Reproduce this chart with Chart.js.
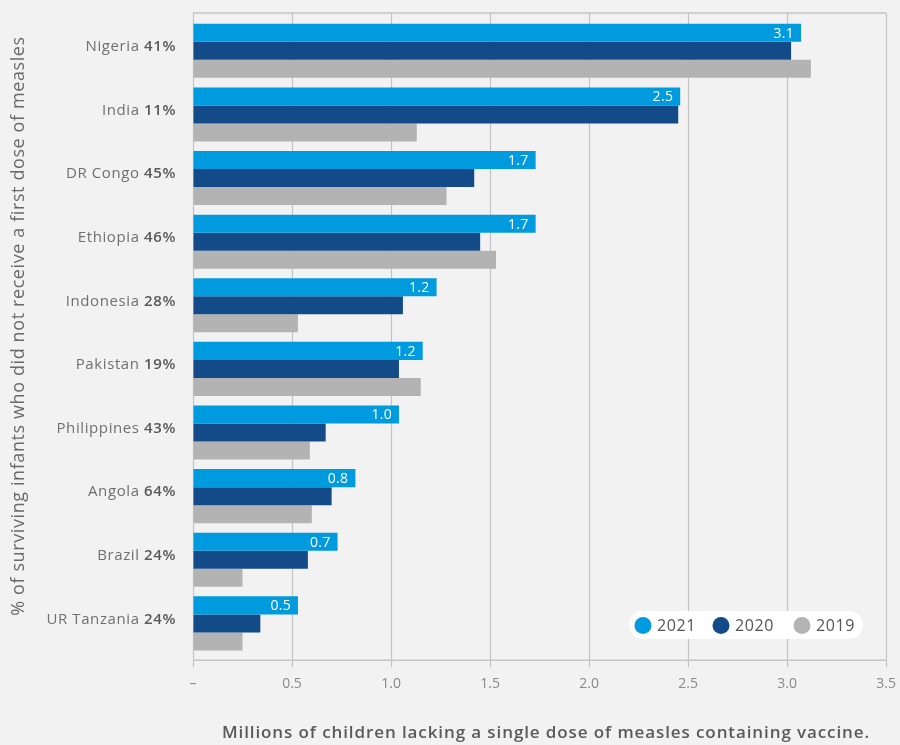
<!DOCTYPE html>
<html>
<head>
<meta charset="utf-8">
<script src="https://cdn.jsdelivr.net/npm/chart.js@4.4.1/dist/chart.umd.min.js"></script>
<style>
  html, body { margin: 0; padding: 0; background: #f2f2f2; }
  #wrap { width: 900px; height: 745px; position: relative; }
</style>
</head>
<body>
<div id="wrap"><canvas id="c" width="900" height="745"></canvas></div>
<script>
const categories = ['Nigeria', 'India', 'DR Congo', 'Ethiopia', 'Indonesia', 'Pakistan', 'Philippines', 'Angola', 'Brazil', 'UR Tanzania'];
const percents = ['41%', '11%', '45%', '46%', '28%', '19%', '43%', '64%', '24%', '24%'];
const values2021 = [3.07, 2.46, 1.73, 1.73, 1.23, 1.16, 1.04, 0.82, 0.73, 0.53];
const values2020 = [3.02, 2.45, 1.42, 1.45, 1.06, 1.04, 0.67, 0.70, 0.58, 0.34];
const values2019 = [3.12, 1.13, 1.28, 1.53, 0.53, 1.15, 0.59, 0.60, 0.25, 0.25];
const seriesNames = ['2021', '2020', '2019'];
const yTitle = '% of surviving infants who did not receive a first dose of measles';
const xTitle = 'Millions of children lacking a single dose of measles containing vaccine.';

const FONT = "'Open Sans', 'Noto Sans', sans-serif";
const colors = ['#009bde', '#134b89', '#b3b3b3'];

function setLS(ctx, v) { if ('letterSpacing' in ctx) ctx.letterSpacing = v; }

const framePlugin = {
  id: 'frame',
  beforeDatasetsDraw(chart) {
    const { ctx, chartArea: a, scales } = chart;
    const xs = scales.x;
    const top = a.top - 6, axisY = a.bottom + 5;
    ctx.save();
    ctx.strokeStyle = '#c4c4c4';
    ctx.lineWidth = 1.2;
    xs.ticks.forEach((t) => {
      const px = Math.round(xs.getPixelForValue(t.value)) + 0.5;
      ctx.beginPath();
      ctx.moveTo(px, top);
      ctx.lineTo(px, axisY + 7);
      ctx.stroke();
    });
    ctx.lineWidth = 1.6;
    ctx.beginPath();
    ctx.moveTo(xs.left, top);
    ctx.lineTo(xs.right, top);
    ctx.moveTo(xs.left, axisY);
    ctx.lineTo(xs.right, axisY);
    ctx.stroke();
    ctx.restore();
  },
  afterDatasetsDraw(chart) {
    const { ctx, scales } = chart;
    const ys = scales.y;
    ctx.save();
    // data labels on 2021 bars
    const meta = chart.getDatasetMeta(0);
    ctx.fillStyle = '#ffffff';
    ctx.font = '500 14px ' + FONT;
    ctx.textAlign = 'right';
    ctx.textBaseline = 'middle';
    setLS(ctx, '0.3px');
    meta.data.forEach((el, i) => {
      const v = chart.data.datasets[0].data[i];
      ctx.fillText(v.toFixed(1), el.x - 7, el.y + 1);
    });
    // category labels with bold percentages
    setLS(ctx, '0.6px');
    categories.forEach((c, i) => {
      const y = ys.getPixelForValue(i) - 4;
      const right = 176;
      ctx.font = '600 15px ' + FONT;
      const pw = ctx.measureText(percents[i]).width;
      ctx.fillStyle = '#595959';
      ctx.textAlign = 'right';
      ctx.fillText(percents[i], right, y);
      ctx.font = '400 15px ' + FONT;
      ctx.fillStyle = '#707070';
      ctx.fillText(c + ' ', right - pw, y);
    });
    // y title
    ctx.save();
    ctx.translate(19, 326);
    ctx.rotate(-Math.PI / 2);
    ctx.font = '400 18px ' + FONT;
    setLS(ctx, '0.6px');
    ctx.fillStyle = '#6a6a6a';
    ctx.textAlign = 'center';
    ctx.fillText(yTitle, 0, 0);
    ctx.restore();
    // x title
    ctx.font = '600 17px ' + FONT;
    setLS(ctx, '0.9px');
    ctx.fillStyle = '#5a5a5a';
    ctx.textAlign = 'center';
    ctx.fillText(xTitle, 546, 733);
    // legend pill
    const lx = 629, ly = 611, lw = 234, lh = 28, r = 14;
    ctx.fillStyle = '#ffffff';
    ctx.beginPath();
    ctx.moveTo(lx + r, ly);
    ctx.lineTo(lx + lw - r, ly);
    ctx.arc(lx + lw - r, ly + r, r, -Math.PI / 2, Math.PI / 2);
    ctx.lineTo(lx + r, ly + lh);
    ctx.arc(lx + r, ly + r, r, Math.PI / 2, Math.PI * 1.5);
    ctx.closePath();
    ctx.fill();
    const cxs = [643, 721, 802];
    setLS(ctx, '0.6px');
    chart.data.datasets.forEach((ds, i) => {
      ctx.fillStyle = ds.backgroundColor;
      ctx.beginPath();
      ctx.arc(cxs[i], 625.5, 8.5, 0, Math.PI * 2);
      ctx.fill();
      ctx.fillStyle = '#555555';
      ctx.font = '500 16px ' + FONT;
      ctx.textAlign = 'left';
      ctx.fillText(ds.label, cxs[i] + 14, 626);
    });
    ctx.restore();
  }
};

new Chart(document.getElementById('c'), {
  type: 'bar',
  data: {
    labels: categories,
    datasets: [
      { label: seriesNames[0], data: values2021, backgroundColor: colors[0] },
      { label: seriesNames[1], data: values2020, backgroundColor: colors[1] },
      { label: seriesNames[2], data: values2019, backgroundColor: colors[2] }
    ]
  },
  options: {
    indexAxis: 'y',
    responsive: false,
    animation: false,
    devicePixelRatio: 1,
    layout: { padding: { left: 193, right: 0, top: 19, bottom: 49 } },
    datasets: { bar: { categoryPercentage: 0.85, barPercentage: 1.0, borderWidth: 0 } },
    plugins: { legend: { display: false }, tooltip: { enabled: false } },
    scales: {
      x: {
        min: 0, max: 3.5,
        grid: {
          display: true, drawOnChartArea: false, drawTicks: true,
          tickLength: 16, color: 'rgba(0,0,0,0)', tickColor: 'rgba(0,0,0,0)'
        },
        border: { display: false },
        ticks: {
          stepSize: 0.5,
          padding: 4,
          color: '#8a8a8a',
          font: { family: FONT, size: 14 },
          callback: (v) => v === 0 ? '–' : Number(v).toFixed(1)
        }
      },
      y: {
        grid: { display: false, drawTicks: false },
        border: { display: false },
        ticks: { display: false }
      }
    }
  },
  plugins: [framePlugin]
});
</script>
</body>
</html>
